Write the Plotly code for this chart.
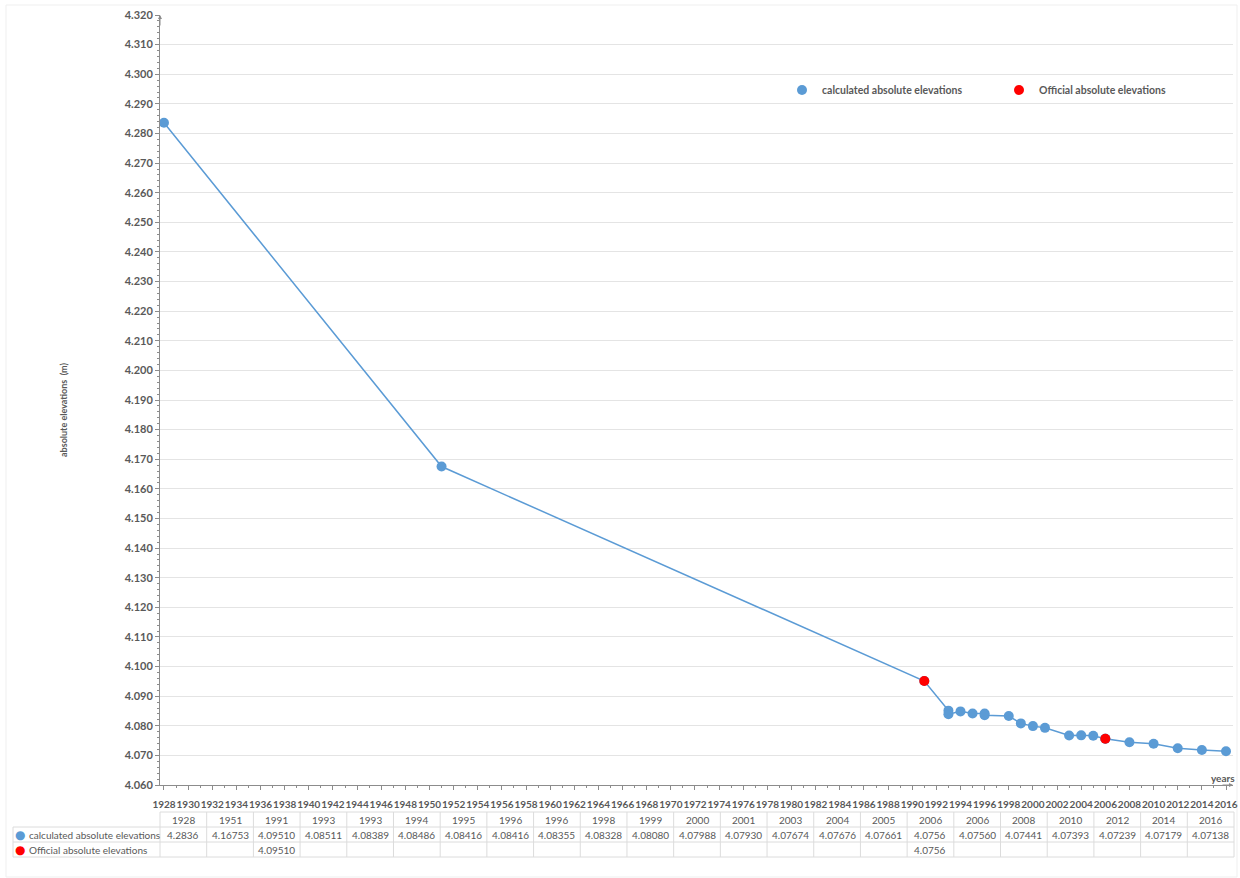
import plotly.graph_objects as go

# ---------------- data ----------------
table_years = ["1928", "1951", "1991", "1993", "1993", "1994", "1995", "1996", "1996",
               "1998", "1999", "2000", "2001", "2003", "2004", "2005", "2006", "2006",
               "2008", "2010", "2012", "2014", "2016"]
calc_labels = ["4.2836", "4.16753", "4.09510", "4.08511", "4.08389", "4.08486", "4.08416",
               "4.08416", "4.08355", "4.08328", "4.08080", "4.07988", "4.07930", "4.07674",
               "4.07676", "4.07661", "4.0756", "4.07560", "4.07441", "4.07393", "4.07239",
               "4.07179", "4.07138"]
official_labels = ["", "", "4.09510", "", "", "", "", "", "", "", "", "", "", "", "", "",
                   "4.0756", "", "", "", "", "", ""]
series_names = ["calculated absolute elevations", "Official absolute elevations"]
y_title = "absolute elevations  (m)"
x_title = "years"

BLUE = "#5B9BD5"
RED = "#FF0000"
TXT = "#595959"
GRID = "#E4E4E4"
FONT = "Lato, 'Open Sans', sans-serif"

calc_x = [int(y) for y in table_years]
calc_y = [float(v) for v in calc_labels]
off_x = [int(y) for y, v in zip(table_years, official_labels) if v]
off_y = [float(v) for v in official_labels if v]

# ---------------- layout geometry (pixels) ----------------
FW, FH = 1240, 878
L, R, T, B = 160, 1233, 15, 785
PW, PH = R - L, B - T


def px(xp):
    return (xp - L) / PW


def py(yp):
    return (B - yp) / PH


fig = go.Figure()

fig.add_trace(go.Scatter(
    x=calc_x, y=calc_y, mode="lines+markers", name=series_names[0],
    line=dict(color=BLUE, width=1.5),
    marker=dict(color=BLUE, size=10),
    showlegend=False,
))
fig.add_trace(go.Scatter(
    x=off_x, y=off_y, mode="markers", name=series_names[1],
    marker=dict(color=RED, size=10),
    showlegend=False,
))
# legend entries (marker only, like the reference)
fig.add_trace(go.Scatter(x=[None], y=[None], mode="markers", name=series_names[0],
                         marker=dict(color=BLUE, size=10)))
fig.add_trace(go.Scatter(x=[None], y=[None], mode="markers", name=series_names[1],
                         marker=dict(color=RED, size=10)))

shapes = []
annotations = []

# ---------------- data table under the chart ----------------
t_left_label = 13
t_left = 160
t_right = 1234
ncol = len(table_years)
colw = (t_right - t_left) / ncol
row_lines = [812, 827, 842, 857]
row_centers = [819.5, 834.5, 849.5]
LINEC = "#DCDCDC"


def hline(x0, x1, y):
    shapes.append(dict(type="line", xref="paper", yref="paper",
                       x0=px(x0), x1=px(x1), y0=py(y), y1=py(y),
                       line=dict(color=LINEC, width=1)))


def vline(x, y0, y1):
    shapes.append(dict(type="line", xref="paper", yref="paper",
                       x0=px(x), x1=px(x), y0=py(y0), y1=py(y1),
                       line=dict(color=LINEC, width=1)))


hline(t_left, t_right, row_lines[0])
for yl in row_lines[1:]:
    hline(t_left_label, t_right, yl)
vline(t_left_label, row_lines[1], row_lines[3])
for k in range(ncol + 1):
    vline(t_left + k * colw, row_lines[0], row_lines[3])

rows = [table_years, calc_labels, official_labels]
for r, row in enumerate(rows):
    for k, txt in enumerate(row):
        if not txt:
            continue
        annotations.append(dict(
            xref="paper", yref="paper", x=px(t_left + (k + 0.5) * colw), y=py(row_centers[r]),
            text=txt, showarrow=False, xanchor="center", yanchor="middle",
            font=dict(family=FONT, size=10, color=TXT)))

for r, (name, col) in enumerate(zip(series_names, [BLUE, RED])):
    annotations.append(dict(
        xref="paper", yref="paper", x=px(20), y=py(row_centers[r + 1]),
        text="●", showarrow=False, xanchor="center", yanchor="middle",
        font=dict(family="DejaVu Sans", size=12, color=col)))
    annotations.append(dict(
        xref="paper", yref="paper", x=px(27), y=py(row_centers[r + 1]),
        text=name, showarrow=False, xanchor="left", yanchor="middle",
        font=dict(family=FONT, size=10, color=TXT)))

# axis titles
annotations.append(dict(
    xref="paper", yref="paper", x=px(63), y=py(410), text=y_title, textangle=-90,
    showarrow=False, xanchor="center", yanchor="middle",
    font=dict(family=FONT, size=9, color=TXT, weight="bold")))
annotations.append(dict(
    xref="paper", yref="paper", x=px(1237), y=py(778), text=x_title,
    showarrow=False, xanchor="right", yanchor="middle",
    font=dict(family=FONT, size=10, color=TXT, weight="bold")))

# axis arrowheads
annotations.append(dict(xref="paper", yref="paper", x=0, y=1, ax=0, ay=12, text="",
                        showarrow=True, arrowhead=2, arrowsize=0.8, arrowwidth=1,
                        arrowcolor="#8C8C8C"))
annotations.append(dict(xref="paper", yref="paper", x=1, y=0, ax=-12, ay=0, text="",
                        showarrow=True, arrowhead=2, arrowsize=0.8, arrowwidth=1,
                        arrowcolor="#8C8C8C"))

# outer chart-area border (faint)
shapes.append(dict(type="rect", xref="paper", yref="paper",
                   x0=px(6), x1=px(1237), y0=py(877), y1=py(5),
                   line=dict(color="#EFEFEF", width=1), layer="below"))

fig.update_layout(
    width=FW, height=FH,
    margin=dict(l=L, r=FW - R, t=T, b=FH - B, autoexpand=False),
    paper_bgcolor="white", plot_bgcolor="white",
    font=dict(family=FONT, color=TXT),
    showlegend=True,
    legend=dict(orientation="h", xref="paper", yref="paper",
                x=px(782), y=py(90), xanchor="left", yanchor="middle",
                font=dict(family=FONT, size=10.5, color=TXT, weight="bold"),
                itemwidth=30, entrywidth=172, entrywidthmode="pixels",
                bgcolor="rgba(0,0,0,0)", tracegroupgap=0),
    shapes=shapes,
    annotations=annotations,
    xaxis=dict(
        range=[1927.67, 2016.58], tick0=1928, dtick=2, tickangle=0,
        showgrid=False, zeroline=False,
        showline=True, linecolor="#8C8C8C", linewidth=1,
        ticks="outside", ticklen=4, tickcolor="#8C8C8C",
        ticklabelstandoff=6,
        tickfont=dict(family=FONT, size=10, color=TXT, weight="bold"),
        minor=dict(dtick=1, ticks="outside", ticklen=2, tickcolor="#8C8C8C"),
        automargin=False,
    ),
    yaxis=dict(
        range=[4.060, 4.320], tick0=4.06, dtick=0.01, tickformat=".3f",
        showgrid=True, gridcolor=GRID, gridwidth=1, zeroline=False,
        showline=True, linecolor="#8C8C8C", linewidth=1,
        ticks="outside", ticklen=4, tickcolor="#8C8C8C",
        tickfont=dict(family=FONT, size=11, color=TXT, weight="bold"),
        minor=dict(dtick=0.002, ticks="outside", ticklen=2, tickcolor="#8C8C8C", showgrid=False),
        automargin=False,
    ),
)

fig.write_html("out.html", config={"displayModeBar": False},
               post_script="document.body.style.margin='0';document.body.style.overflow='hidden';")
